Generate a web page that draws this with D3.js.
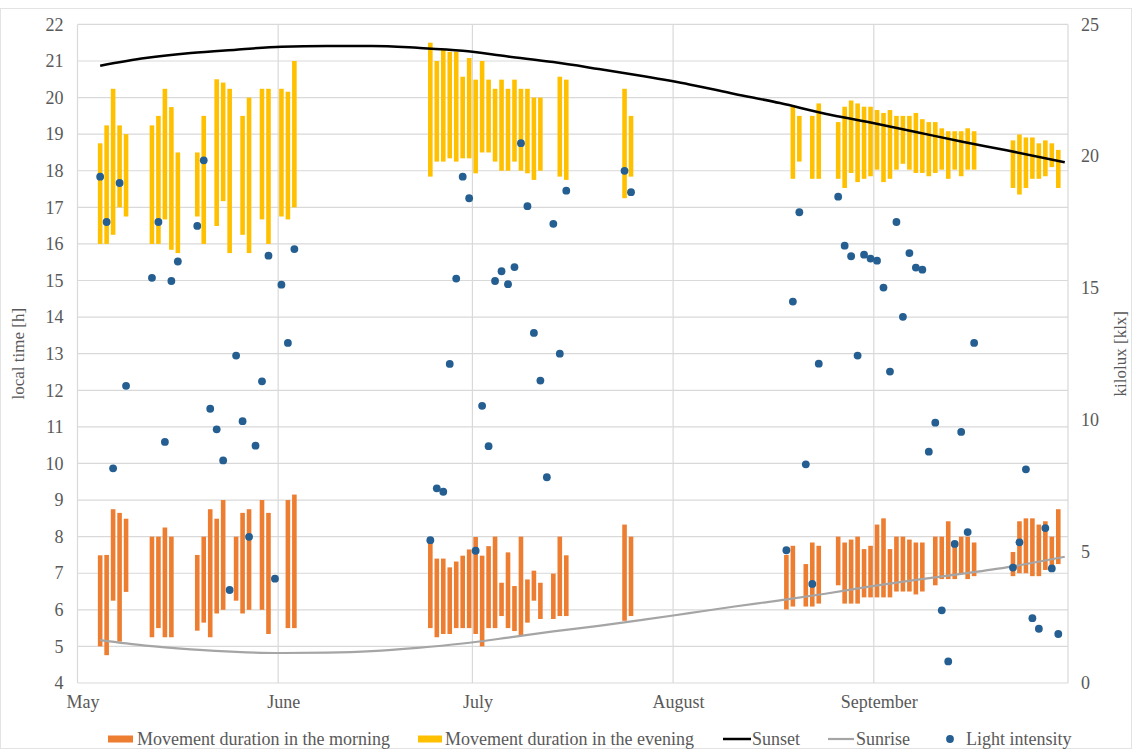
<!DOCTYPE html>
<html><head><meta charset="utf-8">
<script src="https://cdn.jsdelivr.net/npm/d3@7"></script>
<style>
html,body{margin:0;padding:0;background:#fff;}
svg{display:block;font-family:"Liberation Serif","Times New Roman",serif;}
</style></head>
<body>
<svg id="chart" width="1132" height="749"></svg>
<script>
// ---------- DATA ----------
const hourTicks = [4,5,6,7,8,9,10,11,12,13,14,15,16,17,18,19,20,21,22];
const luxTicks = [0,5,10,15,20,25];
const monthTickDates = ["05-01","06-01","07-01","08-01","09-01"];
const monthLabels = ["May","June","July","August","September"];
const gridMonthDates = ["05-01","06-01","07-01","08-01","09-01","10-01"];

const morningDates = ["05-04","05-05","05-06","05-07","05-08","05-12","05-13","05-14","05-15","05-19","05-20","05-21","05-22","05-23","05-25","05-26","05-27","05-29","05-30","06-02","06-03",
 "06-24","06-25","06-26","06-27","06-28","06-29","06-30","07-01","07-02","07-03","07-04","07-05","07-06","07-07","07-08","07-09","07-10","07-11","07-13","07-14","07-15","07-24","07-25",
 "08-18","08-19","08-21","08-22","08-23","08-26","08-27","08-28","08-29","08-30","08-31","09-01","09-02","09-03","09-04","09-05","09-06","09-07","09-08","09-10","09-11","09-12","09-13","09-14","09-15","09-16","09-22","09-23","09-24","09-25","09-26","09-27","09-28","09-29"];
const morningStart = [5.0,4.76,6.25,5.13,6.49,5.25,5.5,5.25,5.25,5.43,5.65,5.25,5.9,6.0,6.25,5.9,6.0,6.0,5.34,5.5,5.5,
 5.5,5.25,5.34,5.34,5.5,5.5,5.5,5.34,5.0,5.5,5.5,5.83,5.5,5.42,5.29,5.65,6.25,5.75,5.75,5.83,5.83,5.7,5.83,
 6.01,6.09,6.09,6.09,6.17,6.67,6.17,6.17,6.17,6.34,6.34,6.34,6.34,6.34,6.5,6.5,6.5,6.42,6.5,6.67,6.84,6.84,6.84,7.0,6.84,6.92,6.92,7.0,7.0,6.92,6.92,7.09,7.16,7.25];
const morningEnd = [7.49,7.5,8.75,8.65,8.49,8.0,8.0,8.25,8.0,7.5,8.0,8.75,8.49,9.0,8.0,8.65,8.75,9.0,8.65,9.0,9.15,
 7.92,7.4,7.4,7.16,7.32,7.48,7.65,7.99,7.48,7.74,8.0,6.74,7.57,6.65,8.0,6.83,7.07,6.74,6.99,8.0,7.49,8.33,8.0,
 7.5,7.75,7.25,7.84,7.75,8.0,7.84,7.92,8.0,7.66,7.75,8.33,8.5,7.66,8.0,8.0,7.92,7.84,7.84,8.0,8.0,8.42,7.84,8.0,8.0,7.84,7.58,8.42,8.5,8.5,8.33,8.42,8.0,8.75];

const eveningDates = ["05-04","05-05","05-06","05-07","05-08","05-12","05-13","05-14","05-15","05-16","05-19","05-20","05-22","05-23","05-24","05-26","05-27","05-29","05-30","06-01","06-02","06-03",
 "06-24","06-25","06-26","06-27","06-28","06-29","06-30","07-01","07-02","07-03","07-04","07-05","07-06","07-07","07-08","07-09","07-10","07-11","07-14","07-15","07-24","07-25",
 "08-19","08-20","08-22","08-23","08-26","08-27","08-28","08-29","08-30","08-31","09-01","09-02","09-03","09-04","09-05","09-06","09-07","09-08","09-09","09-10","09-11","09-12","09-13","09-14","09-15","09-16","09-22","09-23","09-24","09-25","09-26","09-27","09-28","09-29"];
const eveningStart = [16.0,16.0,16.25,17.0,16.75,16.0,16.0,16.67,15.84,15.75,16.75,16.0,16.49,17.17,15.75,16.25,15.75,16.67,16.0,16.75,16.67,17.0,
 17.84,18.25,18.25,18.34,18.25,18.34,18.34,17.93,18.5,18.5,18.25,18.0,18.0,18.25,18.0,17.93,17.75,18.0,17.84,17.75,17.25,17.84,
 17.78,18.25,17.78,17.78,17.78,17.53,17.94,17.69,17.78,17.85,18.03,17.69,17.78,18.03,18.19,18.03,17.94,17.94,17.85,17.94,18.03,17.78,18.03,17.85,18.03,18.03,17.53,17.35,17.53,17.78,17.78,17.85,18.1,17.53];
const eveningEnd = [18.75,19.24,20.24,19.24,19.0,19.24,19.5,20.24,19.74,18.5,18.5,19.5,20.5,20.41,20.24,19.5,20.0,20.24,20.24,20.24,20.16,21.0,
 21.5,21.0,21.33,21.25,21.25,20.57,21.08,20.49,21.0,20.49,20.24,20.49,20.24,20.49,20.24,20.24,20.0,20.0,20.57,20.49,20.24,19.5,
 19.75,19.5,19.5,19.84,19.33,19.75,19.92,19.84,19.75,19.75,19.66,19.58,19.66,19.5,19.5,19.5,19.58,19.41,19.33,19.33,19.16,19.08,19.08,19.08,19.16,19.08,18.83,18.99,18.91,18.91,18.75,18.83,18.75,18.57];

const lightDates = ["05-04","05-05","05-06","05-07","05-08","05-12","05-13","05-14","05-15","05-16","05-19","05-20","05-21","05-22","05-23","05-24","05-25","05-26","05-27","05-28","05-29","05-30","05-31","06-01","06-02","06-03",
 "06-24","06-25","06-26","06-27","06-28","06-29","06-30","07-01","07-02","07-03","07-04","07-05","07-06","07-07","07-08","07-09","07-10","07-11","07-12","07-13","07-14","07-15","07-24","07-25",
 "08-18","08-19","08-20","08-21","08-22","08-23","08-26","08-27","08-28","08-29","08-30","08-31","09-01","09-02","09-03","09-04","09-05","09-06","09-07","09-08","09-09","09-10","09-11","09-12","09-13","09-14","09-15","09-16","09-22","09-23","09-24","09-25","09-26","09-27","09-28","09-29"];
const lightValues = [19.22,17.5,8.15,18.98,11.28,15.38,17.5,9.15,15.26,16.0,17.35,19.84,10.41,9.63,8.45,3.53,12.43,9.94,5.55,9.01,11.45,16.22,3.96,15.12,12.91,16.47,
 5.42,7.39,7.26,12.11,15.35,19.22,18.4,5.02,10.52,8.99,15.26,15.63,15.14,15.79,20.49,18.1,13.29,11.48,7.81,17.43,12.5,18.69,19.44,18.63,
 5.04,14.48,17.87,8.3,3.76,12.12,18.46,16.6,16.2,12.43,16.26,16.11,16.03,15.01,11.82,17.5,13.9,16.32,15.77,15.69,8.78,9.88,2.76,0.82,5.28,9.53,5.73,12.91,4.38,5.34,8.11,2.46,2.06,5.88,4.35,1.86];

const sunDates = ["05-04","05-11","05-18","05-25","06-01","06-08","06-15","06-22","06-29","07-06","07-13","07-20","07-27","08-03","08-10","08-17","08-24","08-31","09-07","09-14","09-21","09-30"];
const sunsetValues = [20.87,21.08,21.22,21.31,21.39,21.41,21.41,21.36,21.28,21.12,20.97,20.78,20.58,20.36,20.1,19.85,19.56,19.32,19.06,18.8,18.56,18.23];
const sunriseValues = [5.17,5.02,4.92,4.85,4.82,4.83,4.87,4.96,5.08,5.24,5.41,5.56,5.73,5.91,6.09,6.26,6.44,6.64,6.82,6.98,7.16,7.45];

const legendLabels = ["Movement duration in the morning","Movement duration in the evening","Sunset","Sunrise","Light intensity"];

// ---------- CHART ----------
const year = 2021;
const parseDay = d3.timeParse("%Y-%m-%d %H");
const noon = s => parseDay(year + "-" + s + " 12");
const midnight = s => parseDay(year + "-" + s + " 00");

const C = {orange:"#ED7D31", yellow:"#FFC000", blue:"#255E91", sunset:"#000000", sunrise:"#A5A5A5", grid:"#D9D9D9", text:"#595959"};
const plotL = 77.5, plotR = 1068, plotT = 24.4, plotB = 683;

const svg = d3.select("#chart");
svg.append("rect").attr("x",0.5).attr("y",8.5).attr("width",1131).attr("height",740)
  .attr("fill","none").attr("stroke","#E3E3E3");

const x = d3.scaleTime().domain([midnight("05-01"), midnight("10-01")]).range([plotL, plotR]);
const yL = d3.scaleLinear().domain([4,22]).range([plotB, plotT]);
const yR = d3.scaleLinear().domain([0,25]).range([plotB, plotT]);

// gridlines
const g = svg.append("g");
g.append("g").selectAll("line").data(hourTicks).join("line")
  .attr("x1",plotL).attr("x2",plotR).attr("y1",d=>yL(d)).attr("y2",d=>yL(d))
  .attr("stroke",C.grid).attr("stroke-width",1.2);
g.append("g").selectAll("line").data(gridMonthDates).join("line")
  .attr("x1",d=>x(midnight(d))).attr("x2",d=>x(midnight(d))).attr("y1",plotT).attr("y2",plotB)
  .attr("stroke",C.grid).attr("stroke-width",1.2);

// axes (labels only)
const fontSize = 18;
const axL = svg.append("g").attr("transform",`translate(${plotL},0)`)
  .call(d3.axisLeft(yL).tickValues(hourTicks).tickSize(0).tickPadding(14).tickFormat(d3.format("d")));
const axR = svg.append("g").attr("transform",`translate(${plotR},0)`)
  .call(d3.axisRight(yR).tickValues(luxTicks).tickSize(0).tickPadding(13).tickFormat(d3.format("d")));
const axB = svg.append("g").attr("transform",`translate(0,${plotB})`)
  .call(d3.axisBottom(x).tickValues(monthTickDates.map(midnight)).tickSize(0).tickPadding(12)
    .tickFormat((d,i)=>monthLabels[i]));
[axL,axR,axB].forEach(a=>{
  a.select(".domain").remove();
  a.selectAll("text").attr("fill",C.text).style("font-size",fontSize+"px")
   .style("font-family",'"Liberation Serif","Times New Roman",serif');
});
axB.selectAll("text").attr("dx",5);

// axis titles
svg.append("text").attr("transform",`translate(24,${(plotT+plotB)/2}) rotate(-90)`)
  .attr("text-anchor","middle").attr("fill",C.text).style("font-size","17px").text("local time [h]");
svg.append("text").attr("transform",`translate(1126,${(plotT+plotB)/2}) rotate(-90)`)
  .attr("text-anchor","middle").attr("fill",C.text).style("font-size","17px").text("kilolux [klx]");

// bars
const barW = 4.6;
const morning = morningDates.map((d,i)=>({date:noon(d), s:morningStart[i], e:morningEnd[i]}));
const evening = eveningDates.map((d,i)=>({date:noon(d), s:eveningStart[i], e:eveningEnd[i]}));
svg.append("g").selectAll("rect").data(morning).join("rect")
  .attr("x",d=>x(d.date)-barW/2).attr("width",barW)
  .attr("y",d=>yL(d.e)).attr("height",d=>yL(d.s)-yL(d.e)).attr("fill",C.orange);
svg.append("g").selectAll("rect").data(evening).join("rect")
  .attr("x",d=>x(d.date)-barW/2).attr("width",barW)
  .attr("y",d=>yL(d.e)).attr("height",d=>yL(d.s)-yL(d.e)).attr("fill",C.yellow);

// lines
const sun = sunDates.map((d,i)=>({date:noon(d), set:sunsetValues[i], rise:sunriseValues[i]}));
svg.append("path").datum(sun)
  .attr("d",d3.line().x(d=>x(d.date)).y(d=>yL(d.set)).curve(d3.curveMonotoneX))
  .attr("fill","none").attr("stroke",C.sunset).attr("stroke-width",2.5);
svg.append("path").datum(sun)
  .attr("d",d3.line().x(d=>x(d.date)).y(d=>yL(d.rise)).curve(d3.curveMonotoneX))
  .attr("fill","none").attr("stroke",C.sunrise).attr("stroke-width",2.2);

// dots
const light = lightDates.map((d,i)=>({date:noon(d), v:lightValues[i]}));
svg.append("g").selectAll("circle").data(light).join("circle")
  .attr("cx",d=>x(d.date)).attr("cy",d=>yR(d.v)).attr("r",3.9).attr("fill",C.blue);

// legend
const lg = svg.append("g").style("font-size",fontSize+"px").attr("fill",C.text);
const ly = 739, lty = 745;
lg.append("rect").attr("x",108).attr("y",ly-3.5).attr("width",25).attr("height",7).attr("fill",C.orange);
lg.append("text").attr("x",137).attr("y",lty).attr("fill",C.text).text(legendLabels[0]);
lg.append("rect").attr("x",418).attr("y",ly-3.5).attr("width",24).attr("height",7).attr("fill",C.yellow);
lg.append("text").attr("x",445).attr("y",lty).attr("fill",C.text).text(legendLabels[1]);
lg.append("line").attr("x1",723).attr("x2",751).attr("y1",ly).attr("y2",ly).attr("stroke",C.sunset).attr("stroke-width",2.5);
lg.append("text").attr("x",752).attr("y",lty).attr("fill",C.text).text(legendLabels[2]);
lg.append("line").attr("x1",828).attr("x2",854).attr("y1",ly).attr("y2",ly).attr("stroke",C.sunrise).attr("stroke-width",2.2);
lg.append("text").attr("x",856).attr("y",lty).attr("fill",C.text).text(legendLabels[3]);
lg.append("circle").attr("cx",950).attr("cy",ly).attr("r",3.9).attr("fill",C.blue);
lg.append("text").attr("x",966).attr("y",lty).attr("fill",C.text).text(legendLabels[4]);
</script>
</body></html>
